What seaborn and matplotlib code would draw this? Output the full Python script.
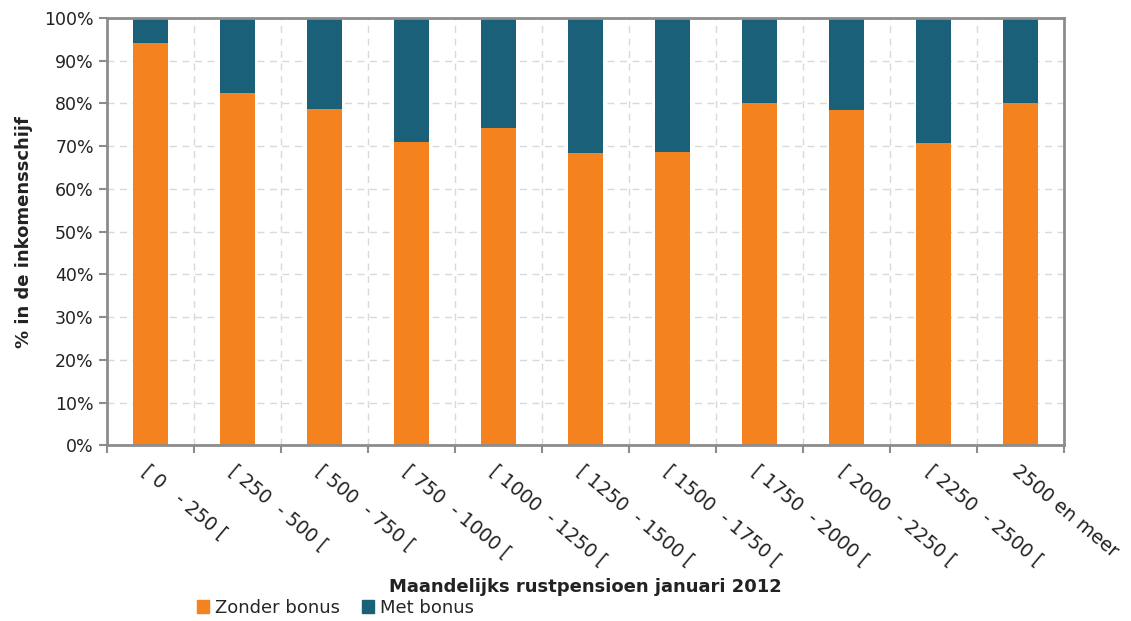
import matplotlib
matplotlib.use("Agg")
import matplotlib.pyplot as plt
import seaborn as sns
import pandas as pd
from matplotlib.ticker import FixedLocator, PercentFormatter
from matplotlib.patches import Patch

categories = ["[ 0   - 250 [", "[ 250  - 500 [", "[ 500  - 750 [", "[ 750  - 1000 [",
              "[ 1000  - 1250 [", "[ 1250  - 1500 [", "[ 1500  - 1750 [",
              "[ 1750  - 2000 [", "[ 2000  - 2250 [", "[ 2250  - 2500 [", "2500 en meer"]
zonder_bonus = [94.1, 82.4, 78.7, 71.0, 74.2, 68.4, 68.6, 80.1, 78.5, 70.7, 80.1]
met_bonus = [100 - v for v in zonder_bonus]

orange = "#F4821F"
teal = "#1A6078"

df = pd.DataFrame({"cat": categories, "zonder": zonder_bonus, "met": met_bonus})
df["totaal"] = df["zonder"] + df["met"]

sns.set_style("white")
plt.rcParams["font.family"] = ["DejaVu Sans"]

fig = plt.figure(figsize=(11.31, 6.21), dpi=100)
ax = fig.add_axes([0.0946, 0.283, 0.8465, 0.688])

# stacked: full bar in teal, orange part drawn over it
sns.barplot(data=df, x="cat", y="totaal", color=teal, width=0.4, ax=ax, saturation=1, linewidth=0)
sns.barplot(data=df, x="cat", y="zonder", color=orange, width=0.4, ax=ax, saturation=1, linewidth=0)

ax.set_xlim(-0.5, len(categories) - 0.5)
ax.set_ylim(0, 100)
ax.set_yticks(range(0, 101, 10))
ax.yaxis.set_major_formatter(PercentFormatter(decimals=0))

# tick marks and vertical grid on the category boundaries
ax.xaxis.set_minor_locator(FixedLocator([i - 0.5 for i in range(len(categories) + 1)]))
ax.tick_params(axis="x", which="major", length=0, labelsize=13.5, colors="#222222", pad=12)
ax.tick_params(axis="x", which="minor", length=6, width=1.5, color="#8c8c8c", direction="out", bottom=True)
ax.tick_params(axis="y", length=6, width=1.5, color="#8c8c8c", direction="out", left=True,
               labelsize=12.5, labelcolor="#222222")
for lbl in ax.get_xticklabels():
    lbl.set_rotation(-40)
    lbl.set_ha("left")
    lbl.set_va("top")
    lbl.set_rotation_mode("anchor")

ax.grid(axis="y", which="major", linestyle=(0, (5, 4)), color="#d9d9d9", linewidth=1)
ax.grid(axis="x", which="minor", linestyle=(0, (5, 4)), color="#d9d9d9", linewidth=1)
ax.set_axisbelow(True)

for side in ["left", "bottom", "right", "top"]:
    ax.spines[side].set_visible(True)
    ax.spines[side].set_color("#8c8c8c")
    ax.spines[side].set_linewidth(2)
    ax.spines[side].set_zorder(3)

ax.set_ylabel("% in de inkomensschijf", fontsize=13, fontweight="bold", color="#222222", labelpad=8)
ax.set_xlabel("")
fig.text(0.518, 0.055, "Maandelijks rustpensioen januari 2012", ha="center", va="center",
         fontsize=13, fontweight="bold", color="#222222")

handles = [Patch(color=orange, label="Zonder bonus"), Patch(color=teal, label="Met bonus")]
fig.legend(handles=handles, loc="center left", bbox_to_anchor=(0.174, 0.021), ncol=2, frameon=False,
           fontsize=13, handlelength=0.7, handleheight=0.7, handletextpad=0.3, columnspacing=1.2,
           borderaxespad=0, borderpad=0)

fig.savefig("out.png", dpi=100)
